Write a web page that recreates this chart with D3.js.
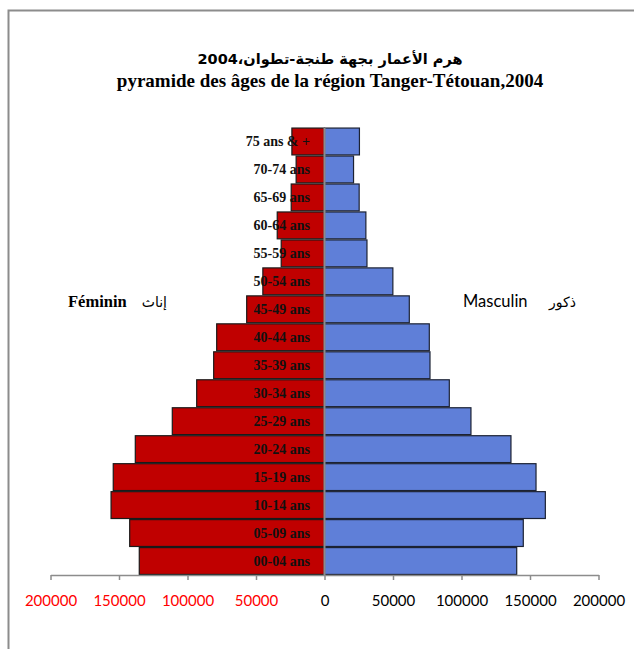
<!DOCTYPE html>
<html>
<head>
<meta charset="utf-8">
<script src="https://cdn.jsdelivr.net/npm/d3@7"></script>
<style>
    body { margin: 0; background: #fff; }
    svg { display: block; }
</style>
</head>
<body>
<script>
// données : population par tranche d'âge (2004)
const ageGroups = ['75 ans & +', '70-74 ans', '65-69 ans', '60-64 ans', '55-59 ans', '50-54 ans',
    '45-49 ans', '40-44 ans', '35-39 ans', '30-34 ans', '25-29 ans', '20-24 ans',
    '15-19 ans', '10-14 ans', '05-09 ans', '00-04 ans'];
const feminin = [23800, 20700, 24300, 34500, 31600, 45000,
    56800, 78700, 80900, 93300, 111100, 138100, 154200, 155800, 142200, 135200];
const masculin = [25500, 21200, 25300, 30200, 31000, 49900,
    61900, 76500, 77000, 91100, 106900, 136100, 154400, 161200, 145100, 140300];
const tickValues = [-200000, -150000, -100000, -50000, 0, 50000, 100000, 150000, 200000];

const svg = d3.select(document.body)
    .append('svg')
    .attr('width', 634)
    .attr('height', 649);

// cadre
svg.append('path')
    .attr('d', 'M8.5,660 L8.5,10.5 L640,10.5')
    .attr('fill', 'none')
    .attr('stroke', '#8c8c8c')
    .attr('stroke-width', 2);

// titre
svg.append('text')
    .attr('x', 330).attr('y', 64)
    .attr('text-anchor', 'middle')
    .attr('direction', 'rtl')
    .style('font-family', '"DejaVu Sans", sans-serif')
    .style('font-weight', 'bold')
    .style('font-size', '14.5px')
    .text('هرم الأعمار بجهة طنجة-تطوان،2004');
svg.append('text')
    .attr('x', 330).attr('y', 87)
    .attr('text-anchor', 'middle')
    .style('font-family', '"Liberation Serif", serif')
    .style('font-weight', 'bold')
    .style('font-size', '19px')
    .text('pyramide des âges de la région Tanger-Tétouan,2004');

const x = d3.scaleLinear()
    .domain([-200000, 200000])
    .range([50.5, 598.5]);
const y = d3.scaleBand()
    .domain(ageGroups)
    .range([127.5, 575])
    .paddingInner(0.04)
    .paddingOuter(0.02);

drawBars(feminin, -1, '#c00000', '#1a1a1a');
drawBars(masculin, 1, '#5f7fd8', '#1c2233');

function drawBars(values, sign, fill, stroke){
    svg.append('g')
        .selectAll('rect')
        .data(values)
        .enter()
        .append('rect')
        .attr('x', function(d){ return sign < 0 ? x(-d) : x(0); })
        .attr('y', function(d, i){ return y(ageGroups[i]); })
        .attr('width', function(d){ return Math.abs(x(sign * d) - x(0)); })
        .attr('height', y.bandwidth())
        .attr('fill', fill)
        .attr('stroke', stroke)
        .attr('stroke-width', 1.2);
}

// axe vertical au centre
svg.append('line')
    .attr('x1', x(0)).attr('x2', x(0))
    .attr('y1', y.range()[0]).attr('y2', 575)
    .attr('stroke', '#8c8c8c')
    .attr('stroke-width', 2);

// étiquettes des tranches d'âge
svg.append('g')
    .selectAll('text')
    .data(ageGroups)
    .enter()
    .append('text')
    .attr('x', 310)
    .attr('y', function(d){ return y(d) + y.bandwidth() / 2 + 5; })
    .attr('text-anchor', 'end')
    .style('font-family', '"Liberation Serif", serif')
    .style('font-weight', 'bold')
    .style('font-size', '14px')
    .attr('fill', '#111')
    .text(function(d){ return d; });

// axe horizontal
const xAxis = d3.axisBottom(x)
    .tickValues(tickValues)
    .tickSize(5)
    .tickSizeOuter(0)
    .tickPadding(15)
    .tickFormat(function(d){ return Math.abs(d); });
const axisG = svg.append('g')
    .attr('transform', 'translate(0,575)')
    .call(xAxis);
axisG.select('.domain').attr('stroke', '#8c8c8c').attr('stroke-width', 1.5);
axisG.selectAll('.tick line').attr('stroke', '#8c8c8c').attr('stroke-width', 1.5);
axisG.selectAll('.tick text')
    .style('font-family', 'Lato, "Open Sans", sans-serif')
    .style('font-size', '15px')
    .attr('fill', function(d){ return d < 0 ? '#ff0000' : '#000'; });

// légendes des sexes
svg.append('text')
    .attr('x', 68).attr('y', 307)
    .style('font-family', '"Liberation Serif", serif')
    .style('font-weight', 'bold')
    .style('font-size', '16.5px')
    .text('Féminin');
svg.append('text')
    .attr('x', 167).attr('y', 307)
    .attr('text-anchor', 'end')
    .style('font-family', '"DejaVu Sans", sans-serif')
    .style('font-size', '14px')
    .text('إناث');
svg.append('text')
    .attr('x', 463).attr('y', 307)
    .style('font-family', 'Lato, "Open Sans", sans-serif')
    .style('font-size', '16.5px')
    .text('Masculin');
svg.append('text')
    .attr('x', 576).attr('y', 307)
    .attr('text-anchor', 'end')
    .style('font-family', '"DejaVu Sans", sans-serif')
    .style('font-size', '14px')
    .text('ذكور');
</script>
</body>
</html>
